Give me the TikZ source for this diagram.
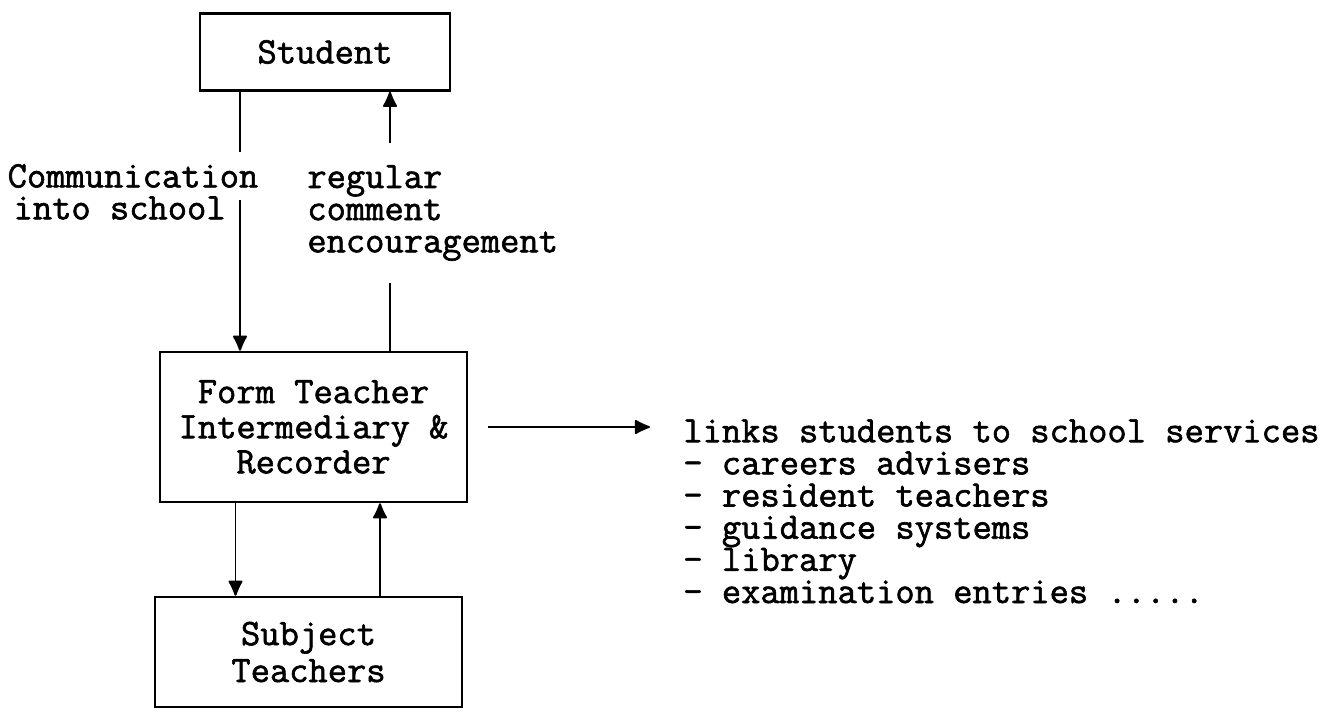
\documentclass[tikz,border=0pt]{standalone}
\usepackage{fontspec}
\newfontfamily\typed{Latin Modern Mono}[FakeBold=1.6]
\usetikzlibrary{positioning,arrows.meta}

\tikzset{
  box/.style={draw,line width=1.5pt,align=center,inner sep=0pt,
    font=\typed\fontsize{21.3}{20}\selectfont},
  flow/.style={-{Latex[round,length=10pt,width=9pt]},line width=1.1pt},
  note/.style={align=left,inner sep=0pt},
}

\begin{document}
\begin{tikzpicture}[every node/.style={font=\typed\fontsize{21.3}{18.3}\selectfont}]
  \useasboundingbox (0,0) rectangle (26.88,14.22);
  % boxes
  \node[box,minimum width=5cm,minimum height=1.54cm] (student) at (6.5,13.18) {Student};
  \node[box,minimum width=6.14cm,minimum height=3cm] (form) at (6.27,5.68)
    {Form Teacher\\Intermediary \&\\Recorder};
  \node[box,minimum width=6.14cm,minimum height=2.2cm,
    font=\typed\fontsize{21.3}{21}\selectfont] (subject) at (6.17,1.18)
    {Subject\\Teachers};
  \node[note,anchor=north west] (services) at (13.66,5.84)
    {links students to school services\\
     - careers advisers\\
     - resident teachers\\
     - guidance systems\\
     - library\\
     - examination entries .....};

  % connectors
  \draw[flow] ([xshift=-1.7cm]student.south) -- ([xshift=-1.7cm]student.south |- form.north);
  \draw[flow] ([xshift=1.3cm]student.south |- form.north) -- ([xshift=1.3cm]student.south);
  \draw[flow] ([xshift=-1.56cm]form.south) -- ([xshift=-1.56cm]form.south |- subject.north);
  \draw[flow] ([xshift=1.33cm]form.south |- subject.north) -- ([xshift=1.33cm]form.south);
  \draw[flow,shorten <=0.4cm,shorten >=0.66cm] (form.east) -- (form.east -| services.west);

  % labels
  \node[fill=white,inner xsep=1pt,inner ysep=0.25cm] (comm) at (2.66,10.7) {Communication};
  \node[anchor=east,inner sep=0pt] (into) at (4.52,10.06) {into school};
  \node[note,fill=white,inner ysep=0.45cm,anchor=west] (comment) at (6.14,9.96)
    {regular\\comment\\encouragement};
\end{tikzpicture}
\end{document}
